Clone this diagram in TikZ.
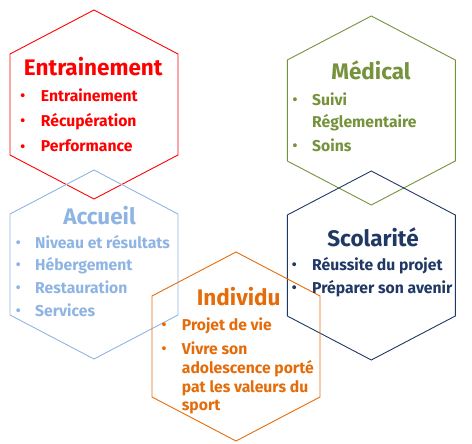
\documentclass[tikz,border=0pt]{standalone}
\usepackage{fontspec}
\setmainfont{Fira Sans}
\usetikzlibrary{calc}
\definecolor{cRed}{HTML}{FF0000}
\definecolor{cGreen}{HTML}{76923C}
\definecolor{cBlue}{HTML}{8EB4E3}
\definecolor{cNavy}{HTML}{1F3864}
\definecolor{cOrange}{HTML}{E46C0A}
\newcommand{\hexa}[3]{%
  \draw[#1, hexline] (#2,#3) ++(0,-94) -- ++(84,44) -- ++(0,101) -- ++(-84,44) -- ++(-84,-44) -- ++(0,-101) -- cycle;}
\begin{document}
\begin{tikzpicture}[x=1pt,y=-1pt,
  hexline/.style={line width=0.9pt},
  ttl/.style={anchor=base, inner sep=0pt, font=\fontsize{22.5}{26}\selectfont\bfseries},
  itm/.style={anchor=base west, inner sep=0pt, font=\fontsize{15.7}{18}\selectfont\bfseries},
  bul/.style={anchor=base, inner sep=0pt, font=\fontsize{14}{16}\selectfont\bfseries}]
\useasboundingbox (0,0) rectangle (472,444);
% hexagons
\hexa{cRed}{94}{104}
\hexa{cGreen}{371.3}{110}
\hexa{cBlue}{94}{264}
\hexa{cNavy}{371.3}{265}
\hexa{cOrange}{236}{346}
% Entrainement
\node[ttl, text=cRed] (t1) at (93.3,76) {Entrainement};
\node[bul, text=cRed] (b11) at (22.7,100.5) {•};
\node[itm, text=cRed] (i11) at (40.7,101.5) {Entrainement};
\node[bul, text=cRed] (b12) at (22.7,125.5) {•};
\node[itm, text=cRed] (i12) at (40.7,126.5) {Récupération};
\node[bul, text=cRed] (b13) at (22.7,151) {•};
\node[itm, text=cRed] (i13) at (40.7,152) {Performance};
% Medical
\node[ttl, text=cGreen] (t2) at (371,80) {Médical};
\node[bul, text=cGreen] (b21) at (295,105) {•};
\node[itm, text=cGreen] (i21) at (312,106) {Suivi};
\node[itm, text=cGreen] (i22) at (312,127.3) {Réglementaire};
\node[bul, text=cGreen] (b22) at (295,150.7) {•};
\node[itm, text=cGreen] (i23) at (312,151.7) {Soins};
% Accueil
\node[ttl, text=cBlue] (t3) at (99.5,224) {Accueil};
\node[bul, text=cBlue] (b31) at (18.3,247.3) {•};
\node[itm, text=cBlue] (i31) at (35,248.3) {Niveau et résultats};
\node[bul, text=cBlue] (b32) at (18.3,269.7) {•};
\node[itm, text=cBlue] (i32) at (35,270.7) {Hébergement};
\node[bul, text=cBlue] (b33) at (18.3,292.3) {•};
\node[itm, text=cBlue] (i33) at (35,293.3) {Restauration};
\node[bul, text=cBlue] (b34) at (18.3,315.7) {•};
\node[itm, text=cBlue] (i34) at (35,316.7) {Services};
% Scolarite
\node[ttl, text=cNavy] (t4) at (373,246) {Scolarité};
\node[bul, text=cNavy] (b41) at (294.3,269) {•};
\node[itm, text=cNavy] (i41) at (312,270) {Réussite du projet};
\node[bul, text=cNavy] (b42) at (294.3,292.3) {•};
\node[itm, text=cNavy] (i42) at (312,293.3) {Préparer son avenir};
% Individu
\node[ttl, text=cOrange] (t5) at (238.7,305.7) {Individu};
\node[bul, text=cOrange] (b51) at (164,329) {•};
\node[itm, text=cOrange] (i51) at (181.7,330) {Projet de vie};
\node[bul, text=cOrange] (b52) at (164,353) {•};
\node[itm, text=cOrange] (i52) at (181.7,354) {Vivre son};
\node[itm, text=cOrange] (i53) at (181.7,373.3) {adolescence porté};
\node[itm, text=cOrange] (i54) at (181.7,392.3) {pat les valeurs du};
\node[itm, text=cOrange] (i55) at (181.7,410.5) {sport};
\end{tikzpicture}
\end{document}
